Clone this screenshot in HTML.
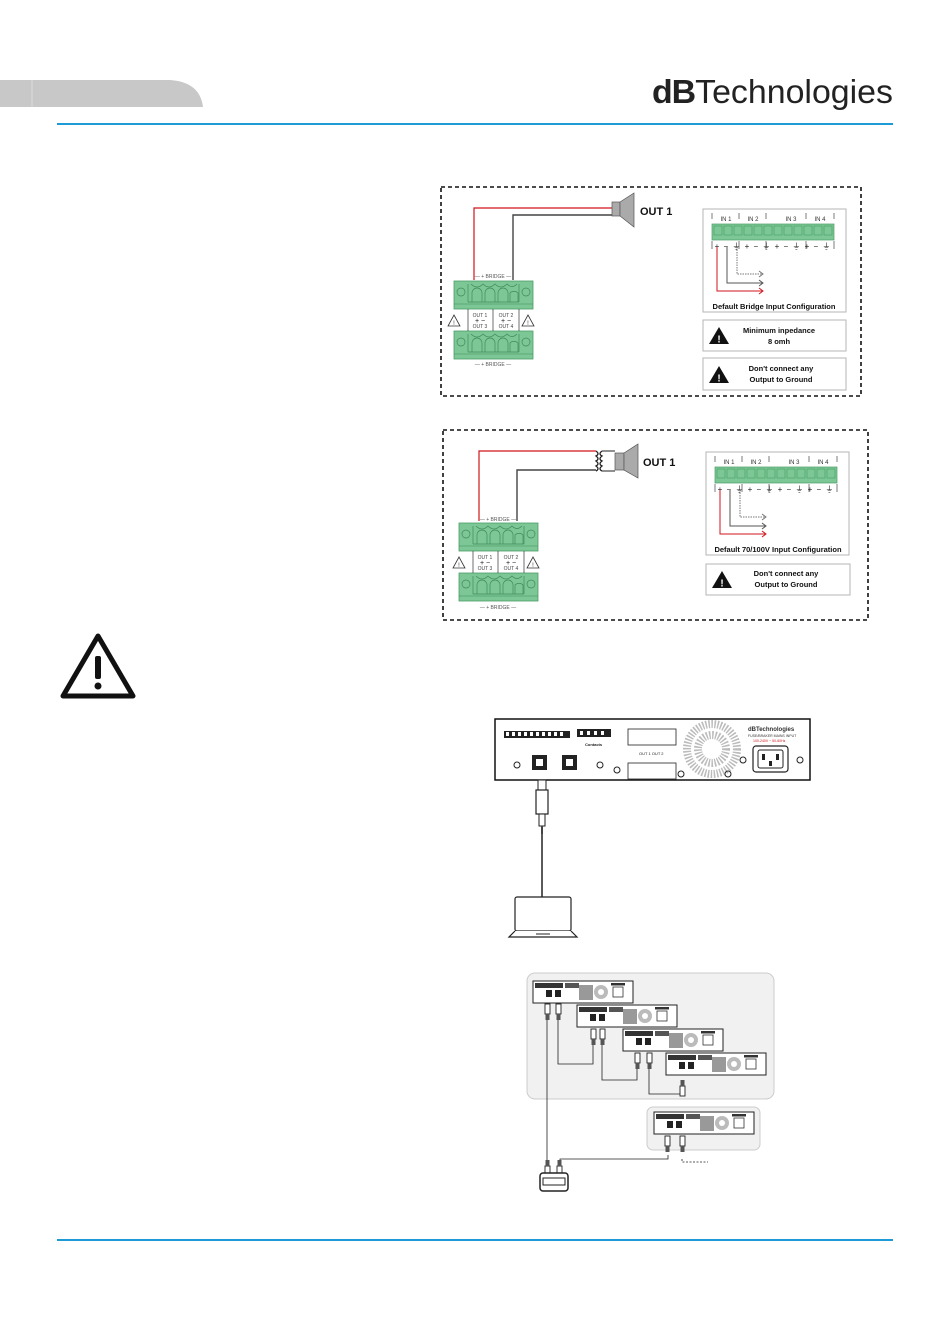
<!DOCTYPE html>
<html><head><meta charset="utf-8"><style>
html,body{margin:0;padding:0;background:#fff}
svg{display:block}
text{font-family:"Liberation Sans",sans-serif}
</style></head><body>
<svg width="950" height="1344" viewBox="0 0 950 1344" xmlns="http://www.w3.org/2000/svg">
<defs>
 <g id="tb">
  <rect x="0" y="0" width="79" height="28" fill="#7cc795" stroke="#4a9e66" stroke-width="0.8"/>
  <circle cx="7" cy="11" r="4" fill="none" stroke="#3f8a59" stroke-width="0.7"/>
  <circle cx="72" cy="11" r="4" fill="none" stroke="#3f8a59" stroke-width="0.7"/>
  <path d="M14 3 v18 M65 3 v18 M14 21 h51" stroke="#3f8a59" stroke-width="0.7" fill="none"/>
  <path d="M18 21 v-9 a5 5 0 0 1 10 0 v9 M31 21 v-9 a5 5 0 0 1 10 0 v9 M44 21 v-9 a5 5 0 0 1 10 0 v9 M56 21 v-9 a5 4 0 0 1 8 0 v9" stroke="#3f8a59" stroke-width="0.7" fill="none"/>
  <path d="M17 3 q6 6 12 0 q6 6 12 0 q6 6 12 0 q5 5 10 0" stroke="#3f8a59" stroke-width="0.7" fill="none"/>
  <path d="M0 23 h79" stroke="#3f8a59" stroke-width="0.6"/>
 </g>
 <g id="tri">
  <path d="M6 0 L12 11 H0 Z" fill="#fff" stroke="#333" stroke-width="0.8"/>
  <text x="6" y="10" font-size="6" text-anchor="middle" fill="#333">!</text>
 </g>
 <g id="btri">
  <path d="M10 0 L20 17 H0 Z" fill="#111"/>
  <text x="10" y="15.5" font-size="10" font-weight="bold" text-anchor="middle" fill="#fff">!</text>
 </g>
 <g id="inpanel">
  <rect x="0" y="0" width="143" height="103" fill="#fff" stroke="#b5b5b5" stroke-width="1"/>
  <path d="M9 4 v6 M36 4 v6 M63 4 v6 M103 4 v6 M131 4 v6" stroke="#444" stroke-width="0.7"/>
  <text x="23" y="12" font-size="6" text-anchor="middle" fill="#333">IN 1</text>
  <text x="50" y="12" font-size="6" text-anchor="middle" fill="#333">IN 2</text>
  <text x="88" y="12" font-size="6" text-anchor="middle" fill="#333">IN 3</text>
  <text x="117" y="12" font-size="6" text-anchor="middle" fill="#333">IN 4</text>
  <rect x="9" y="15" width="122" height="16" fill="#7cc795" stroke="#4a9e66" stroke-width="0.7"/>
  <g fill="none" stroke="#4a9e66" stroke-width="0.6">
   <rect x="11" y="17" width="8" height="9"/><rect x="21" y="17" width="8" height="9"/><rect x="31" y="17" width="8" height="9"/><rect x="41" y="17" width="8" height="9"/><rect x="51" y="17" width="8" height="9"/><rect x="61" y="17" width="8" height="9"/><rect x="71" y="17" width="8" height="9"/><rect x="81" y="17" width="8" height="9"/><rect x="91" y="17" width="8" height="9"/><rect x="101" y="17" width="8" height="9"/><rect x="111" y="17" width="8" height="9"/><rect x="121" y="17" width="8" height="9"/>
  </g>
  <path d="M9 32 v8 M36 32 v8 M63 32 v8 M103 32 v8 M131 32 v8" stroke="#444" stroke-width="0.7"/>
  <text x="70" y="40" font-size="8" fill="#222" text-anchor="middle" letter-spacing="1">+ − ⏚ + − ⏚   + − ⏚ + − ⏚</text>
  <path d="M14 38 v44 h45" stroke="#d0151b" stroke-width="1" fill="none"/>
  <path d="M56 79 l4 3 l-4 3" stroke="#d0151b" fill="none"/>
  <path d="M24 38 v36 h35" stroke="#555" stroke-width="1" fill="none"/>
  <path d="M56 71 l4 3 l-4 3" stroke="#555" fill="none"/>
  <path d="M34 38 v27 h25" stroke="#777" stroke-width="1" stroke-dasharray="1.5 1" fill="none"/>
  <path d="M56 62 l4 3 l-4 3" stroke="#777" fill="none"/>
 </g>
 <g id="amp">
  <rect x="0" y="0" width="100" height="22" fill="#fff" stroke="#222" stroke-width="1"/>
  <rect x="2" y="2" width="28" height="5" fill="#333"/><rect x="32" y="2" width="14" height="5" fill="#555"/>
  <rect x="13" y="9" width="6" height="7" fill="#222"/><rect x="22" y="9" width="6" height="7" fill="#222"/>
  <rect x="46" y="4" width="14" height="15" fill="#999"/>
  <circle cx="68" cy="11" r="7" fill="#bbb"/><circle cx="68" cy="11" r="3" fill="#fff"/>
  <rect x="80" y="6" width="10" height="10" fill="#fff" stroke="#333" stroke-width="0.8"/>
  <rect x="78" y="2" width="14" height="2.5" fill="#333"/>
 </g>
 <g id="rj">
  <rect x="0" y="0" width="5" height="10" fill="#fff" stroke="#222" stroke-width="0.9"/>
  <rect x="0.5" y="10" width="4" height="6" fill="#555"/>
 </g>
</defs>

<!-- header -->
<path d="M0 80 H170 Q200 82 203 107 H0 Z" fill="#c8c8c8"/>
<line x1="32" y1="80" x2="32" y2="107" stroke="#dcdcdc" stroke-width="1"/>
<text x="652" y="103" font-size="33" fill="#222" textLength="241" lengthAdjust="spacingAndGlyphs"><tspan font-weight="bold" letter-spacing="-1">dB</tspan><tspan>Technologies</tspan></text>
<rect x="57" y="123" width="836" height="2" fill="#1e9ad6"/>
<rect x="57" y="1239" width="836" height="2" fill="#1e9ad6"/>

<!-- box 1 -->
<rect x="441" y="187" width="420" height="209" fill="none" stroke="#111" stroke-width="1.6" stroke-dasharray="4 3"/>
<path d="M474 280 V208 H612" stroke="#d0151b" stroke-width="1.2" fill="none"/>
<path d="M513 280 V215 H612" stroke="#444" stroke-width="1.4" fill="none"/>
<rect x="612" y="202" width="8" height="14" fill="#aaa" stroke="#555" stroke-width="0.7"/>
<path d="M620 202 L634 193 V227 L620 216 Z" fill="#aaa" stroke="#555" stroke-width="0.7"/>
<text x="640" y="215" font-size="11" font-weight="bold" fill="#111">OUT 1</text>
<text x="493" y="278" font-size="5" fill="#555" text-anchor="middle">— + BRIDGE —</text>
<use href="#tb" x="454" y="281"/>
<use href="#tb" x="454" y="331"/>
<path d="M468 309 v22 M493 309 v22 M519 309 v22" stroke="#333" stroke-width="0.7"/>
<text x="480" y="317" font-size="5" fill="#444" text-anchor="middle">OUT 1</text>
<text x="480" y="323" font-size="7" fill="#111" text-anchor="middle">+ −</text>
<text x="480" y="328" font-size="5" fill="#444" text-anchor="middle">OUT 3</text>
<text x="506" y="317" font-size="5" fill="#444" text-anchor="middle">OUT 2</text>
<text x="506" y="323" font-size="7" fill="#111" text-anchor="middle">+ −</text>
<text x="506" y="328" font-size="5" fill="#444" text-anchor="middle">OUT 4</text>
<use href="#tri" x="448" y="315"/><use href="#tri" x="522" y="315"/>
<text x="493" y="366" font-size="5" fill="#555" text-anchor="middle">— + BRIDGE —</text>
<use href="#inpanel" x="703" y="209"/>
<text x="774" y="309" font-size="7.5" font-weight="bold" fill="#111" text-anchor="middle">Default Bridge Input Configuration</text>
<rect x="703" y="320" width="143" height="31" fill="#fff" stroke="#b5b5b5"/>
<use href="#btri" x="709" y="327"/>
<text x="779" y="333" font-size="7.5" font-weight="bold" fill="#111" text-anchor="middle">Minimum inpedance</text>
<text x="779" y="344" font-size="7.5" font-weight="bold" fill="#111" text-anchor="middle">8 omh</text>
<rect x="703" y="358" width="143" height="32" fill="#fff" stroke="#b5b5b5"/>
<use href="#btri" x="709" y="366"/>
<text x="781" y="371" font-size="7.5" font-weight="bold" fill="#111" text-anchor="middle">Don't connect any</text>
<text x="781" y="382" font-size="7.5" font-weight="bold" fill="#111" text-anchor="middle">Output to Ground</text>

<!-- box 2 -->
<rect x="443" y="430" width="425" height="190" fill="none" stroke="#111" stroke-width="1.6" stroke-dasharray="4 3"/>
<path d="M479 521 V451 H596" stroke="#d0151b" stroke-width="1.2" fill="none"/>
<path d="M517 521 V470 H596" stroke="#444" stroke-width="1.4" fill="none"/>
<path d="M596 451 q4 3 0 5 q4 3 0 5 q4 3 0 5 q4 3 0 5 M602 451 q-4 3 0 5 q-4 3 0 5 q-4 3 0 5 q-4 3 0 5" stroke="#222" stroke-width="1.3" fill="none"/>
<path d="M602 451 H615 M602 471 H615" stroke="#222" stroke-width="1"/>
<rect x="615" y="453" width="9" height="17" fill="#aaa" stroke="#555" stroke-width="0.7"/>
<path d="M624 453 L638 444 V478 L624 470 Z" fill="#aaa" stroke="#555" stroke-width="0.7"/>
<text x="643" y="466" font-size="11" font-weight="bold" fill="#111">OUT 1</text>
<text x="498" y="521" font-size="5" fill="#555" text-anchor="middle">— + BRIDGE —</text>
<use href="#tb" x="459" y="523"/>
<use href="#tb" x="459" y="573"/>
<path d="M473 551 v22 M498 551 v22 M524 551 v22" stroke="#333" stroke-width="0.7"/>
<text x="485" y="559" font-size="5" fill="#444" text-anchor="middle">OUT 1</text>
<text x="485" y="565" font-size="7" fill="#111" text-anchor="middle">+ −</text>
<text x="485" y="570" font-size="5" fill="#444" text-anchor="middle">OUT 3</text>
<text x="511" y="559" font-size="5" fill="#444" text-anchor="middle">OUT 2</text>
<text x="511" y="565" font-size="7" fill="#111" text-anchor="middle">+ −</text>
<text x="511" y="570" font-size="5" fill="#444" text-anchor="middle">OUT 4</text>
<use href="#tri" x="453" y="557"/><use href="#tri" x="527" y="557"/>
<text x="498" y="609" font-size="5" fill="#555" text-anchor="middle">— + BRIDGE —</text>
<use href="#inpanel" x="706" y="452"/>
<text x="778" y="552" font-size="7.5" font-weight="bold" fill="#111" text-anchor="middle">Default 70/100V Input Configuration</text>
<rect x="706" y="564" width="144" height="31" fill="#fff" stroke="#b5b5b5"/>
<use href="#btri" x="712" y="571"/>
<text x="786" y="576" font-size="7.5" font-weight="bold" fill="#111" text-anchor="middle">Don't connect any</text>
<text x="786" y="587" font-size="7.5" font-weight="bold" fill="#111" text-anchor="middle">Output to Ground</text>

<!-- big warning -->
<path d="M98 636 L133 696 H63 Z" fill="none" stroke="#111" stroke-width="5" stroke-linejoin="round"/>
<rect x="95" y="656" width="6" height="23" rx="2" fill="#111"/>
<circle cx="98" cy="686" r="3.5" fill="#111"/>

<!-- amp rear panel -->
<rect x="495" y="719" width="315" height="61" fill="#fff" stroke="#111" stroke-width="1.5"/>
<g fill="#222">
 <rect x="504" y="731" width="66" height="7"/><rect x="577" y="729" width="34" height="8"/>
</g>
<g fill="#fff"><rect x="506" y="732" width="3" height="4"/><rect x="512" y="732" width="3" height="4"/><rect x="518" y="732" width="3" height="4"/><rect x="524" y="732" width="3" height="4"/><rect x="530" y="732" width="3" height="4"/><rect x="536" y="732" width="3" height="4"/><rect x="542" y="732" width="3" height="4"/><rect x="548" y="732" width="3" height="4"/><rect x="554" y="732" width="3" height="4"/><rect x="560" y="732" width="3" height="4"/><rect x="580" y="731" width="3" height="4"/><rect x="587" y="731" width="3" height="4"/><rect x="594" y="731" width="3" height="4"/><rect x="601" y="731" width="3" height="4"/></g>
<text x="585" y="746" font-size="4" font-weight="bold" fill="#222">Contacts</text>
<rect x="532" y="755" width="15" height="15" fill="#222"/><rect x="536" y="759" width="7" height="7" fill="#fff"/>
<rect x="562" y="755" width="15" height="15" fill="#222"/><rect x="566" y="759" width="7" height="7" fill="#fff"/>
<circle cx="517" cy="765" r="3" fill="none" stroke="#222"/><circle cx="600" cy="765" r="3" fill="none" stroke="#222"/><circle cx="617" cy="770" r="3" fill="none" stroke="#222"/>
<rect x="628" y="729" width="48" height="16" fill="#fff" stroke="#222" stroke-width="0.8"/>
<rect x="628" y="763" width="48" height="16" fill="#fff" stroke="#222" stroke-width="0.8"/>
<text x="639" y="755" font-size="4" fill="#222">OUT 1  OUT 2</text>
<circle cx="712" cy="749" r="25" fill="none" stroke="#bbb" stroke-width="8" stroke-dasharray="1.5 1.5"/>
<circle cx="712" cy="749" r="14" fill="none" stroke="#bbb" stroke-width="8" stroke-dasharray="1.5 1.5"/>
<circle cx="681" cy="774" r="3" fill="none" stroke="#222"/><circle cx="728" cy="774" r="3" fill="none" stroke="#222"/><circle cx="743" cy="760" r="3" fill="none" stroke="#222"/><circle cx="800" cy="760" r="3" fill="none" stroke="#222"/>
<text x="748" y="731" font-size="6" font-weight="bold" fill="#333">dBTechnologies</text>
<text x="748" y="737" font-size="3.5" fill="#333">FUSE/BRAKER MAINS INPUT</text>
<text x="753" y="742" font-size="3.5" fill="#d0151b">100-240V ~ 50-60Hz</text>
<rect x="753" y="746" width="35" height="26" rx="3" fill="#fff" stroke="#222" stroke-width="1.2"/>
<rect x="758" y="750" width="25" height="18" rx="2" fill="#fff" stroke="#222"/>
<rect x="762" y="754" width="3" height="6" fill="#222"/><rect x="776" y="754" width="3" height="6" fill="#222"/><rect x="769" y="761" width="3" height="5" fill="#222"/>

<!-- laptop link -->
<rect x="538" y="780" width="8" height="10" fill="#fff" stroke="#222"/>
<rect x="536" y="790" width="12" height="24" fill="#fff" stroke="#222" stroke-width="1.2"/>
<rect x="539" y="814" width="6" height="12" fill="#fff" stroke="#222"/>
<rect x="541" y="826" width="2" height="8" fill="#444"/>
<line x1="542" y1="834" x2="542" y2="897" stroke="#222" stroke-width="1.5"/>
<rect x="515" y="897" width="56" height="34" rx="2" fill="#fff" stroke="#222" stroke-width="1.2"/>
<path d="M515 931 L509 937 H577 L571 931" fill="#fff" stroke="#222" stroke-width="1.2"/>
<line x1="536" y1="934" x2="550" y2="934" stroke="#222"/>

<!-- rack group -->
<rect x="527" y="973" width="247" height="126" rx="8" fill="#f1f1f1" stroke="#ccc"/>
<rect x="647" y="1107" width="113" height="43" rx="6" fill="#f1f1f1" stroke="#ccc"/>
<use href="#amp" x="533" y="981"/>
<use href="#amp" x="577" y="1005"/>
<use href="#amp" x="623" y="1029"/>
<use href="#amp" x="666" y="1053"/>
<use href="#amp" x="654" y="1112"/>
<g fill="none" stroke="#222" stroke-width="0.8">
 <path d="M547 1018 V1175"/>
<path d="M558 1018 V1064 H593 V1045"/>
<path d="M602 1045 V1080 H637 V1057"/>
<path d="M649 1057 V1094 H682 V1080"/>
<path d="M668 1155 V1159 H560 V1175"/>
</g>
<path d="M682 1159 V1162 H708" stroke="#222" stroke-width="0.8" stroke-dasharray="2 1.5" fill="none"/>
<use href="#rj" x="545" y="1004"/><use href="#rj" x="556" y="1004"/>
<use href="#rj" x="591" y="1029"/><use href="#rj" x="600" y="1029"/>
<use href="#rj" x="635" y="1053"/><use href="#rj" x="647" y="1053"/>
<use href="#rj" x="680" y="1080" transform="rotate(180 682.5 1088)"/>
<use href="#rj" x="665" y="1136"/><use href="#rj" x="680" y="1136"/>
<use href="#rj" x="545" y="1160" transform="rotate(180 547.5 1168)"/>
<use href="#rj" x="557" y="1160" transform="rotate(180 559.5 1168)"/>
<rect x="540" y="1173" width="28" height="18" rx="3" fill="#fff" stroke="#222" stroke-width="1.5"/>
<rect x="543" y="1178" width="22" height="7" fill="#fff" stroke="#222"/>
</svg>
</body></html>
